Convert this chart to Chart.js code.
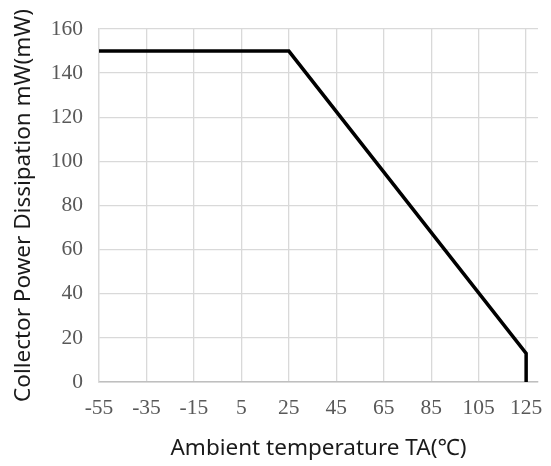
<!DOCTYPE html>
<html>
<head>
<meta charset="utf-8">
<script src="https://cdn.jsdelivr.net/npm/chart.js@4.4.1/dist/chart.umd.min.js"></script>
<style>
html,body{margin:0;padding:0;background:#fff;}
#wrap{width:551px;height:466px;position:relative;}
</style>
</head>
<body>
<div id="wrap"><canvas id="c" width="551" height="466"></canvas></div>
<script>
const temperatures = [-55, 25, 125, 125];
const powerMW = [150, 150, 13, 0];
const xTickValues = [-55, -35, -15, 5, 25, 45, 65, 85, 105, 125];
const yTickValues = [0, 20, 40, 60, 80, 100, 120, 140, 160];
const xTitle = 'Ambient temperature TA(\u2103)';
const yTitle = 'Collector Power Dissipation mW(mW)';

const points = temperatures.map((t, i) => ({x: t, y: powerMW[i]}));
const tickFont = {family: '"Liberation Serif", serif', size: 21.5};
const titleFont = {family: '"Noto Sans", sans-serif', size: 22.5};
const gridColor = '#d9d9d9';

new Chart(document.getElementById('c'), {
  type: 'scatter',
  data: {
    datasets: [{
      data: points,
      showLine: true,
      borderColor: '#000',
      borderWidth: 3.5,
      pointRadius: 0,
      fill: false,
      tension: 0
    }]
  },
  options: {
    responsive: false,
    animation: false,
    events: [],
    layout: {padding: {top: 29, right: 13, left: 0, bottom: 0}},
    plugins: {legend: {display: false}, tooltip: {enabled: false}},
    scales: {
      x: {
        type: 'linear',
        min: -55,
        max: 130,
        afterBuildTicks: (s) => { s.ticks = xTickValues.map(v => ({value: v})); },
        afterFit: (s) => { s.height = 84; s.paddingLeft = 0; s.paddingRight = 0; },
        ticks: {color: '#595959', font: tickFont, padding: 13, maxRotation: 0, autoSkip: false,
                callback: (v) => String(v)},
        grid: {color: gridColor, lineWidth: 1.3, drawTicks: false},
        border: {color: '#bfbfbf', width: 1.5},
        title: {display: true, text: xTitle, color: '#1a1a1a', font: titleFont, padding: {top: 0, bottom: 4}}
      },
      y: {
        type: 'linear',
        min: 0,
        max: 160,
        afterBuildTicks: (s) => { s.ticks = yTickValues.map(v => ({value: v})); },
        afterFit: (s) => { s.width = 99; s.paddingTop = 0; s.paddingBottom = 0; },
        ticks: {color: '#595959', font: tickFont, padding: 16, callback: (v) => String(v)},
        grid: {color: gridColor, lineWidth: 1.3, drawTicks: false},
        border: {color: gridColor, width: 1.3},
        title: {display: true, text: yTitle, color: '#1a1a1a', font: titleFont, padding: {top: 10, bottom: 0}}
      }
    }
  }
});
</script>
</body>
</html>
